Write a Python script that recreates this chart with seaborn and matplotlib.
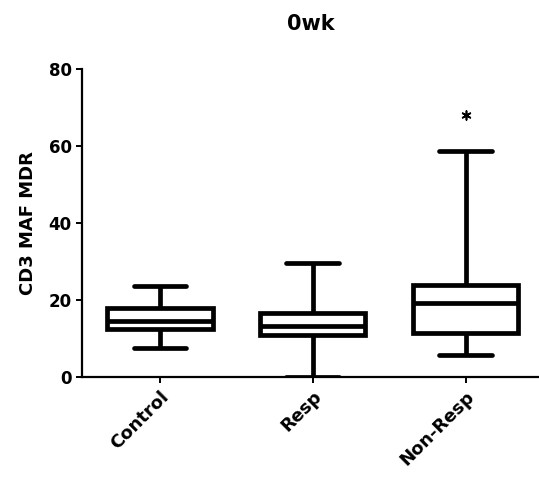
import numpy as np
import pandas as pd
import matplotlib
matplotlib.use("Agg")
import matplotlib.pyplot as plt
import seaborn as sns

categories = ["Control", "Resp", "Non-Resp"]
whisker_low = [7.4, 0.0, 5.6]
q1 = [12.4, 10.9, 11.3]
median = [14.6, 13.1, 19.3]
q3 = [17.8, 16.5, 23.8]
whisker_high = [23.5, 29.5, 58.8]
outlier_group = ["Non-Resp"]
outlier_value = [68.0]
yticks = [0, 20, 40, 60, 80]

rows = []
for c, a, b, m, d, e in zip(categories, whisker_low, q1, median, q3, whisker_high):
    for v in (a, b, m, d, e):
        rows.append({"group": c, "value": v})
df = pd.DataFrame(rows)
out_df = pd.DataFrame({"group": outlier_group, "value": outlier_value})

sns.set_style("ticks")
plt.rcParams['font.family'] = ['DejaVu Sans']
plt.rcParams['text.color'] = 'black'
plt.rcParams['axes.labelcolor'] = 'black'
plt.rcParams['xtick.color'] = 'black'
plt.rcParams['ytick.color'] = 'black'

fig = plt.figure(figsize=(5.39, 4.90), dpi=100)
ax = fig.add_axes([0.152, 0.231, 0.848, 0.628])

lw = 3.4
sns.boxplot(data=df, x="group", y="value", order=categories, whis=np.inf,
            width=0.69, color="white", linecolor="black", linewidth=lw,
            fliersize=0, ax=ax,
            boxprops=dict(facecolor="white", edgecolor="black", linewidth=lw),
            whiskerprops=dict(color="black", linewidth=lw),
            capprops=dict(color="black", linewidth=lw),
            medianprops=dict(color="black", linewidth=lw))

sns.scatterplot(data=out_df, x="group", y="value", marker=(6, 2, 0), s=40,
                color="black", linewidth=1.2, ax=ax, zorder=5)

ax.set_xlim(-0.51, 2.48)
ax.set_ylim(0, 80)
ax.set_yticks(yticks)
ax.set_yticklabels([str(t) for t in yticks], fontsize=12, fontweight="bold")
ax.set_xticks(range(len(categories)))
ax.set_xticklabels(categories, rotation=45, ha="right", rotation_mode="anchor",
                   fontsize=13, fontweight="bold")
ax.set_xlabel("")
ax.set_ylabel("CD3 MAF MDR", fontsize=13, fontweight="bold", labelpad=8)
ax.set_title("0wk", fontsize=15, fontweight="bold", pad=28)
sns.despine(ax=ax)
for s in ("left", "bottom"):
    ax.spines[s].set_linewidth(1.6)
    ax.spines[s].set_color("black")
ax.tick_params(axis="both", width=1.4, length=4, direction="out")

fig.savefig("out.png", dpi=100)
